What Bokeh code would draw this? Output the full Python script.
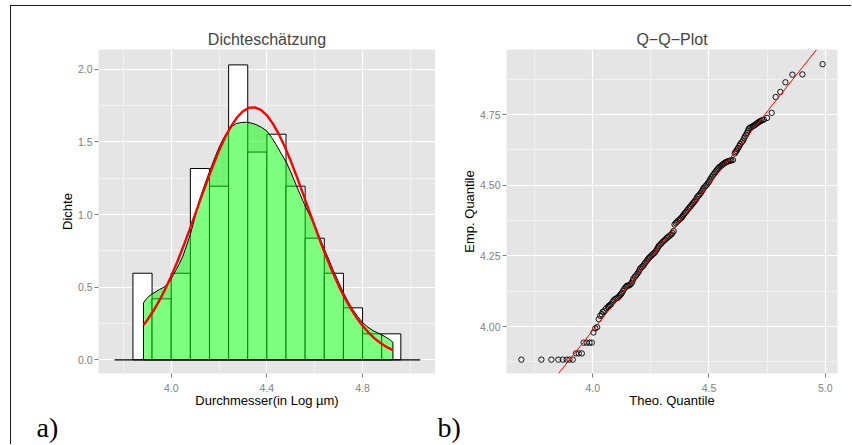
from bokeh.plotting import figure
from bokeh.models import FixedTicker, Slope, Title, Range1d
from bokeh.layouts import row
from bokeh.embed import file_html
from bokeh.resources import INLINE

# ---------------- data: histogram / density panel ----------------
bin_left = [3.84, 3.92, 4.00, 4.08, 4.16, 4.24, 4.32, 4.40, 4.48, 4.56, 4.64, 4.72, 4.80, 4.88]
bin_right = [3.92, 4.00, 4.08, 4.16, 4.24, 4.32, 4.40, 4.48, 4.56, 4.64, 4.72, 4.80, 4.88, 4.96]
hist_density = [0.596, 0.42, 0.596, 1.317, 1.195, 2.03, 1.43, 1.553, 1.195, 0.837, 0.596, 0.358, 0.179, 0.179]

kde_x = [3.884, 3.884, 3.893, 3.902, 3.912, 3.923, 3.937, 3.951, 3.965, 3.979, 3.990, 4.000, 4.010,
         4.021, 4.035, 4.049, 4.065, 4.081, 4.100, 4.118, 4.140, 4.161, 4.182, 4.202, 4.222,
         4.241, 4.257, 4.272, 4.293, 4.314, 4.335, 4.355, 4.378, 4.401, 4.420, 4.439, 4.460,
         4.481, 4.502, 4.523, 4.540, 4.557, 4.582, 4.606, 4.624, 4.641, 4.659, 4.676, 4.697,
         4.717, 4.738, 4.759, 4.780, 4.801, 4.822, 4.843, 4.861, 4.878, 4.896, 4.913, 4.927, 4.927]
kde_y = [0.0, 0.392, 0.413, 0.430, 0.444, 0.456, 0.470, 0.484, 0.496, 0.510, 0.530, 0.557, 0.587,
         0.621, 0.665, 0.713, 0.790, 0.870, 0.985, 1.100, 1.205, 1.300, 1.390, 1.470, 1.535,
         1.585, 1.610, 1.626, 1.634, 1.635, 1.630, 1.619, 1.600, 1.573, 1.530, 1.480, 1.420,
         1.360, 1.285, 1.200, 1.135, 1.070, 0.985, 0.897, 0.828, 0.759, 0.690, 0.621, 0.545,
         0.472, 0.405, 0.346, 0.297, 0.255, 0.225, 0.202, 0.187, 0.174, 0.158, 0.140, 0.121, 0.0]

norm_x = [3.884, 3.900, 3.925, 3.950, 3.975, 4.000, 4.025, 4.050, 4.075, 4.100, 4.125, 4.150,
          4.175, 4.200, 4.225, 4.250, 4.275, 4.300, 4.325, 4.350, 4.375, 4.400, 4.425, 4.450,
          4.475, 4.500, 4.525, 4.550, 4.575, 4.600, 4.625, 4.650, 4.675, 4.700, 4.725, 4.750,
          4.775, 4.800, 4.825, 4.850, 4.875, 4.900, 4.926]
norm_y = [0.239, 0.274, 0.336, 0.407, 0.487, 0.576, 0.673, 0.778, 0.888, 1.001, 1.116, 1.229,
          1.338, 1.440, 1.530, 1.607, 1.668, 1.711, 1.735, 1.738, 1.720, 1.683, 1.626, 1.553,
          1.466, 1.368, 1.261, 1.148, 1.034, 0.920, 0.808, 0.702, 0.603, 0.511, 0.428, 0.355,
          0.290, 0.235, 0.188, 0.148, 0.116, 0.089, 0.067]

base_x = [3.763, 5.041]
base_y = [0.0, 0.0]

h_xticks = [4.0, 4.4, 4.8]
h_xtick_labels = ["4.0", "4.4", "4.8"]
h_xminor = [3.8, 4.2, 4.6, 5.0]
h_yticks = [0.0, 0.5, 1.0, 1.5, 2.0]
h_ytick_labels = ["0.0", "0.5", "1.0", "1.5", "2.0"]
h_yminor = [0.25, 0.75, 1.25, 1.75]

# ---------------- data: Q-Q panel ----------------
qq_theo = [3.693, 3.779, 3.822, 3.852, 3.871, 3.888, 3.900, 3.914,
           3.928, 3.940, 3.953,
           3.961, 3.974, 3.986, 3.996,
           4.003, 4.011, 4.019,
           4.026, 4.032, 4.039, 4.043, 4.050, 4.057, 4.066, 4.069, 4.074, 4.079, 4.086, 4.091,
           4.096, 4.102, 4.108, 4.113, 4.118, 4.122, 4.126, 4.131, 4.136, 4.142, 4.147, 4.152,
           4.158, 4.163, 4.168, 4.172, 4.175, 4.181, 4.187, 4.192, 4.197, 4.201, 4.204, 4.210,
           4.216, 4.221, 4.226, 4.232, 4.237, 4.242, 4.247, 4.252, 4.256, 4.261, 4.266, 4.271,
           4.276, 4.280, 4.284, 4.290, 4.295, 4.300, 4.305, 4.311, 4.316, 4.321, 4.326, 4.332,
           4.338, 4.343, 4.348, 4.352, 4.357, 4.362, 4.368, 4.374, 4.379, 4.384, 4.388, 4.392,
           4.397, 4.402, 4.407, 4.412, 4.417, 4.421, 4.426, 4.431, 4.436, 4.441, 4.446, 4.450,
           4.455, 4.460, 4.465, 4.470, 4.474, 4.478, 4.484, 4.489, 4.494, 4.499, 4.503, 4.507,
           4.512, 4.517, 4.522, 4.527, 4.532, 4.536, 4.541, 4.546, 4.551, 4.556, 4.560, 4.565,
           4.570, 4.575, 4.580, 4.585, 4.591, 4.596, 4.603, 4.611, 4.614, 4.618, 4.622, 4.626,
           4.631, 4.635, 4.641, 4.647, 4.651, 4.655, 4.660, 4.664, 4.668, 4.672, 4.678, 4.684,
           4.689, 4.694, 4.699, 4.704, 4.709, 4.714, 4.719, 4.724, 4.730, 4.736, 4.750, 4.770,
           4.787, 4.807, 4.829, 4.859, 4.902, 4.989]
qq_emp = [3.883, 3.883, 3.883, 3.883, 3.883, 3.883, 3.883, 3.883,
          3.905, 3.905, 3.905,
          3.943, 3.943, 3.943, 3.943,
          3.979, 3.994, 3.998,
          4.026, 4.038, 4.044, 4.052, 4.055, 4.064, 4.070, 4.073, 4.076, 4.079, 4.088, 4.093,
          4.097, 4.100, 4.102, 4.107, 4.111, 4.116, 4.120, 4.127, 4.134, 4.140, 4.144, 4.145,
          4.146, 4.150, 4.155, 4.163, 4.170, 4.176, 4.181, 4.187, 4.193, 4.199, 4.205, 4.210,
          4.214, 4.220, 4.226, 4.232, 4.238, 4.243, 4.247, 4.251, 4.254, 4.258, 4.261, 4.267,
          4.273, 4.279, 4.285, 4.290, 4.294, 4.299, 4.303, 4.307, 4.311, 4.315, 4.318, 4.322,
          4.326, 4.331, 4.338, 4.361, 4.366, 4.370, 4.375, 4.379, 4.383, 4.387, 4.392, 4.397,
          4.402, 4.406, 4.412, 4.417, 4.422, 4.426, 4.431, 4.436, 4.441, 4.446, 4.452, 4.459,
          4.463, 4.467, 4.473, 4.479, 4.485, 4.491, 4.496, 4.500, 4.506, 4.511, 4.517, 4.523,
          4.529, 4.535, 4.541, 4.546, 4.551, 4.556, 4.561, 4.565, 4.568, 4.571, 4.574, 4.577,
          4.580, 4.582, 4.584, 4.585, 4.587, 4.588, 4.589, 4.612, 4.617, 4.621, 4.627, 4.632,
          4.639, 4.646, 4.652, 4.658, 4.666, 4.673, 4.679, 4.685, 4.693, 4.701, 4.704, 4.706,
          4.709, 4.711, 4.714, 4.717, 4.720, 4.723, 4.726, 4.728, 4.730, 4.732, 4.738, 4.756,
          4.812, 4.830, 4.864, 4.891, 4.892, 4.928]
qq_line_slope = 1.032
qq_line_intercept = -0.142

q_xticks = [4.0, 4.5, 5.0]
q_xtick_labels = ["4.0", "4.5", "5.0"]
q_xminor = [3.75, 4.25, 4.75]
q_yticks = [4.0, 4.25, 4.5, 4.75]
q_ytick_labels = ["4.00", "4.25", "4.50", "4.75"]
q_yminor = [3.875, 4.125, 4.375, 4.625, 4.875]

SANS = "Liberation Sans"
SERIF = "Liberation Serif"
TICK_GREY = "#7F7F7F"


def style(p, xt, xl, xm, yt, yl, ym, xlabel, ylabel):
    p.background_fill_color = "#E5E5E5"
    p.border_fill_color = "white"
    p.outline_line_color = None
    p.xaxis.ticker = FixedTicker(ticks=xt, minor_ticks=xm)
    p.yaxis.ticker = FixedTicker(ticks=yt, minor_ticks=ym)
    p.xaxis.major_label_overrides = dict(zip(xt, xl))
    p.yaxis.major_label_overrides = dict(zip(yt, yl))
    for ax in (p.xaxis[0], p.yaxis[0]):
        ax.axis_line_color = None
        ax.major_tick_line_color = TICK_GREY
        ax.major_tick_out = 4
        ax.major_tick_in = 0
        ax.minor_tick_line_color = None
        ax.major_label_text_font = SANS
        ax.major_label_text_font_size = "10.5px"
        ax.major_label_text_color = TICK_GREY
        ax.axis_label_text_font = SANS
        ax.axis_label_text_font_size = "13px"
        ax.axis_label_text_font_style = "normal"
        ax.axis_label_text_color = "black"
    p.xaxis.major_label_standoff = 6
    p.xaxis.axis_label_standoff = -2
    p.yaxis.major_label_standoff = 2
    p.yaxis.axis_label_standoff = 0
    p.xaxis.axis_label = xlabel
    p.yaxis.axis_label = ylabel
    for g in (p.xgrid[0], p.ygrid[0]):
        g.grid_line_color = "white"
        g.grid_line_width = 1.2
        g.minor_grid_line_color = "#F2F2F2"
        g.minor_grid_line_width = 1
    p.title.align = "center"
    p.title.text_font = SANS
    p.title.text_font_size = "16px"
    p.title.text_font_style = "normal"
    p.title.standoff = 3


def panel_tag(p, text, offset):
    p.add_layout(Title(text=text, align="left", offset=offset, text_font=SERIF,
                       text_font_size="28px", text_font_style="normal",
                       vertical_align="middle", text_line_height=0.6,
                       text_color="black", standoff=0), "below")


# ---------------- left panel ----------------
p1 = figure(width=424, height=438, x_range=Range1d(3.696, 5.105), y_range=Range1d(-0.094, 2.136),
            output_backend="svg", toolbar_location=None, title="Dichteschätzung",
            min_border_left=87, min_border_right=0, min_border_top=43, min_border_bottom=71)
style(p1, h_xticks, h_xtick_labels, h_xminor, h_yticks, h_ytick_labels, h_yminor,
      "Durchmesser(in Log µm)", "Dichte")
p1.quad(left=bin_left, right=bin_right, top=hist_density, bottom=0,
        fill_color="white", line_color="black", line_width=1)
p1.patch(kde_x, kde_y, fill_color="#00FF00", fill_alpha=0.5, line_color="black", line_width=1)
p1.line(norm_x, norm_y, line_color="red", line_width=2.4)
p1.line(base_x, base_y, line_color="black", line_width=1.3)
panel_tag(p1, "a)", -62)

# ---------------- right panel ----------------
p2 = figure(width=416, height=438, x_range=Range1d(3.629, 5.053), y_range=Range1d(3.834, 4.980),
            output_backend="svg", toolbar_location=None, title="Q\u2212Q\u2212Plot",
            min_border_left=71, min_border_right=14, min_border_top=43, min_border_bottom=71)
style(p2, q_xticks, q_xtick_labels, q_xminor, q_yticks, q_ytick_labels, q_yminor,
      "Theo. Quantile", "Emp. Quantile")
p2.scatter(qq_theo, qq_emp, marker="circle", size=5.4, fill_color=None,
           line_color="black", line_width=0.9)
p2.add_layout(Slope(gradient=qq_line_slope, y_intercept=qq_line_intercept,
                    line_color="red", line_width=1))
panel_tag(p2, "b)", -69)

layout = row(p1, p2, styles={"border-top": "1.5px solid #1a1a1a",
                             "border-left": "1.5px solid #1a1a1a",
                             "margin-left": "10px", "margin-top": "5px"})

open("out.html", "w").write(file_html(layout, INLINE))
